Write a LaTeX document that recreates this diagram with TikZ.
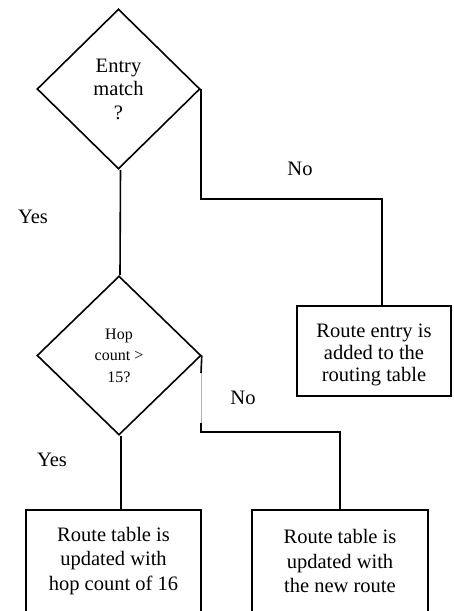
\documentclass[tikz,border=0pt]{standalone}
\usepackage{fontspec}
\setmainfont{Liberation Serif}
\usetikzlibrary{shapes.geometric}
\begin{document}
\begin{tikzpicture}[x=1pt,y=-1pt,
  line width=1.6pt,
  txt/.style={font=\fontsize{20.5}{24.5}\selectfont, align=center, inner sep=0},
  decision/.style={draw, shape=diamond, inner sep=0, align=center},
  boxnode/.style={draw, rectangle, inner sep=0}]
\useasboundingbox (0,0) rectangle (453,611);
% decisions
\node[decision, minimum width=163pt, minimum height=160pt,
      font=\fontsize{20.5}{23.5}\selectfont] (d1) at (118.5,89) {Entry\\match\\?};
\node[decision, minimum width=164pt, minimum height=159pt,
      font=\fontsize{16}{21.5}\selectfont] (d2) at (119,355.5) {Hop\\count >\\15?};
% boxes
\node[boxnode, minimum width=154pt, minimum height=90pt] (b1) at (374,351) {};
\node[txt, font=\fontsize{20.5}{22}\selectfont] (t1) at (374,355) {Route entry is\\added to the\\routing table};
\node[boxnode, minimum width=175pt, minimum height=140pt] (b3) at (113.5,580) {};
\node[txt] (t3) at (113.5,561) {Route table is\\updated with\\hop count of 16};
\node[boxnode, minimum width=176pt, minimum height=140pt] (b4) at (340,580) {};
\node[txt] (t4) at (340,561) {Route table is\\updated with\\the new route};
% labels
\node[txt] (no1) at (300,169) {No};
\node[txt] (yes1) at (33,217) {Yes};
\node[txt] (no2) at (243,398) {No};
\node[txt] (yes2) at (52,460) {Yes};
% connectors
\draw ([xshift=2pt]d1.south) -- ([xshift=1pt]d2.north);
\coordinate (c1) at (382,199);
\draw (d1.east) |- (c1) -- (c1 |- b1.north);
\coordinate (k1) at (201,373);
\coordinate (k2) at (201,423);
\coordinate (c2) at (201,432);
\draw (d2.east) -- (k1);
\draw[gray!60, line width=0.5pt] (k1) -- (k2);
\draw (k2) -- (c2) -| (b4.north);
\draw ([xshift=2pt]d2.south) -- ([xshift=2pt]d2.south |- b3.north);
\end{tikzpicture}
\end{document}
